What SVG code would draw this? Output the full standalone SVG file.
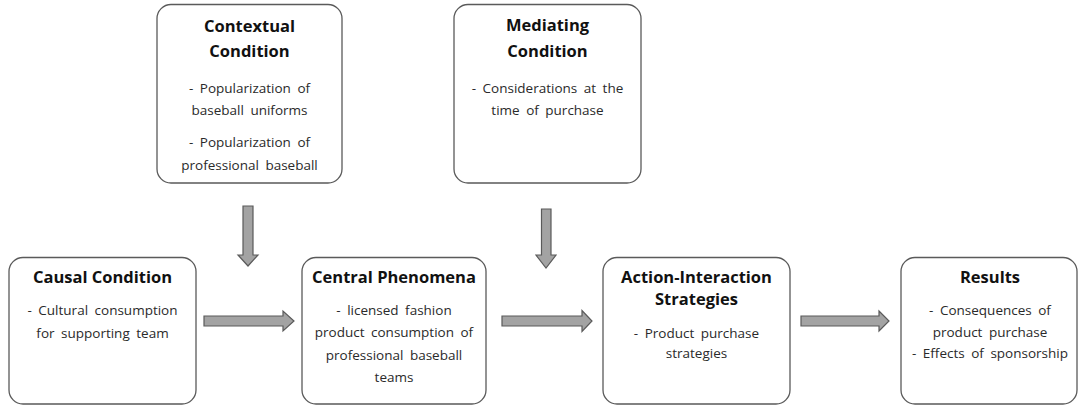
<svg xmlns="http://www.w3.org/2000/svg" width="1082" height="415" viewBox="0 0 1082 415">
<style>
.box{fill:#fff;stroke:#5a5a5a;stroke-width:1.3}
.t{font-family:"Open Sans","Noto Sans",sans-serif;font-weight:bold;font-size:16.5px;fill:#111;text-anchor:middle}
.b{font-family:"Open Sans","Noto Sans",sans-serif;font-size:13.5px;fill:#2a2a2a;text-anchor:middle;word-spacing:3px}
.arr{fill:#a3a3a3;stroke:#5a5a5a;stroke-width:1.2;stroke-linejoin:miter}
</style>
<rect width="1082" height="415" fill="#fff"/>
<g id="contextual">
<rect class="box" x="157" y="4.5" width="185" height="178.5" rx="14"/>
<text class="t" x="249.5" y="32">Contextual</text>
<text class="t" x="249.5" y="57">Condition</text>
<text class="b" x="249.5" y="93">- Popularization of</text>
<text class="b" x="249.5" y="115">baseball uniforms</text>
<text class="b" x="249.5" y="147">- Popularization of</text>
<text class="b" x="249.5" y="170">professional baseball</text>
</g>
<g id="mediating">
<rect class="box" x="454" y="4.5" width="187" height="178.5" rx="14"/>
<text class="t" x="547.5" y="31">Mediating</text>
<text class="t" x="547.5" y="57">Condition</text>
<text class="b" x="547.5" y="93">- Considerations at the</text>
<text class="b" x="547.5" y="115">time of purchase</text>
</g>
<g id="causal">
<rect class="box" x="9" y="257.5" width="187" height="146.5" rx="14"/>
<text class="t" x="102.5" y="283">Causal Condition</text>
<text class="b" x="102.5" y="315">- Cultural consumption</text>
<text class="b" x="102.5" y="338">for supporting team</text>
</g>
<g id="central">
<rect class="box" x="302" y="257.5" width="184" height="146.5" rx="14"/>
<text class="t" x="394" y="283">Central Phenomena</text>
<text class="b" x="394" y="315">- licensed fashion</text>
<text class="b" x="394" y="337">product consumption of</text>
<text class="b" x="394" y="360">professional baseball</text>
<text class="b" x="394" y="382">teams</text>
</g>
<g id="action">
<rect class="box" x="603" y="257.5" width="187" height="146.5" rx="14"/>
<text class="t" x="696.5" y="283">Action-Interaction</text>
<text class="t" x="696.5" y="305">Strategies</text>
<text class="b" x="696.5" y="338">- Product purchase</text>
<text class="b" x="696.5" y="358">strategies</text>
</g>
<g id="results">
<rect class="box" x="901" y="257.5" width="176" height="146.5" rx="14"/>
<text class="t" x="990" y="283">Results</text>
<text class="b" x="990" y="315">- Consequences of</text>
<text class="b" x="990" y="337">product purchase</text>
<text class="b" x="990" y="358">- Effects of sponsorship</text>
</g>
<g id="connectors">
<path class="arr" d="M204,316 H283 V311 L294,321 L283,331 V326 H204 Z"/>
<path class="arr" d="M502,316 H582 V310.5 L592,321 L582,331.5 V326 H502 Z"/>
<path class="arr" d="M801,316 H879 V311 L889,321 L879,331 V326 H801 Z"/>
<path class="arr" d="M243,206 H253 V255 H258 L248,266 L238,255 H243 Z"/>
<path class="arr" d="M541.5,209 H551 V255 H556 L546,268 L536,255 H541.5 Z"/>
</g>
</svg>
